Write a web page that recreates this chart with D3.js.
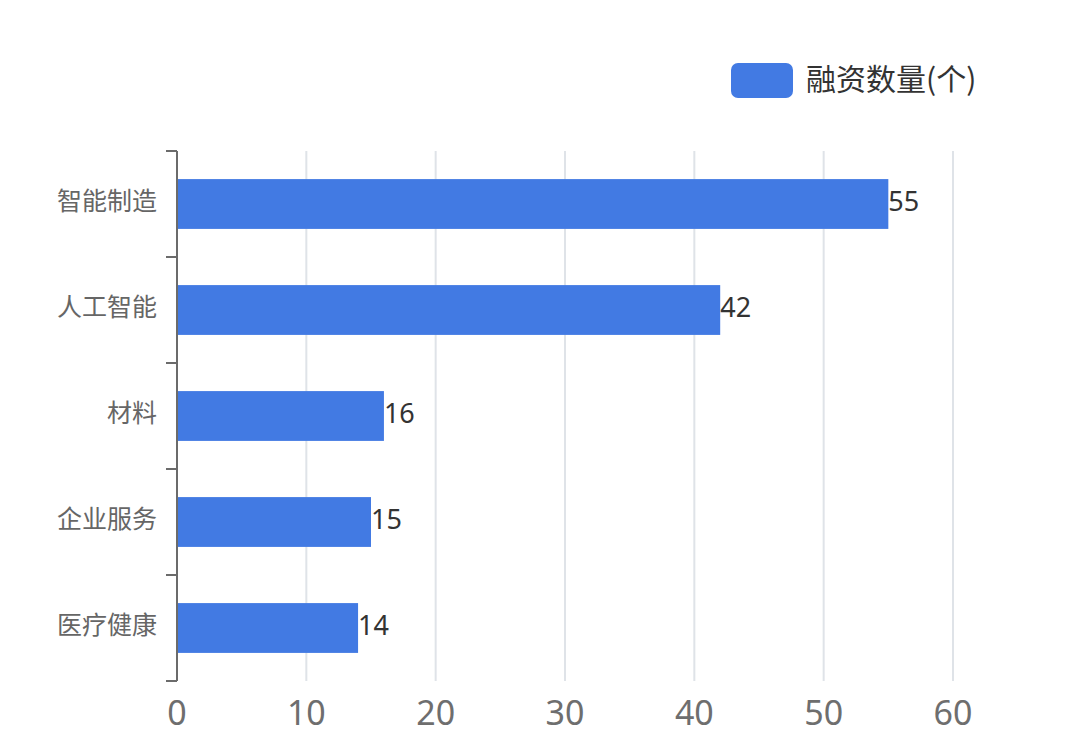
<!DOCTYPE html>
<html><head><meta charset="utf-8">
<script src="https://cdn.jsdelivr.net/npm/d3@7"></script>
<style>body{margin:0;background:#fff;}svg{display:block;}</style>
</head><body>
<svg id="c" width="1080" height="753"></svg>
<script>
const categories = ["智能制造","人工智能","材料","企业服务","医疗健康"];
const values = [55, 42, 16, 15, 14];
const xTicks = [0,10,20,30,40,50,60];
const seriesName = "融资数量(个)";

const cjk = "'Noto Sans CJK SC','Noto Sans',sans-serif";
const latin = "'Noto Sans','Noto Sans CJK SC',sans-serif";
const svg = d3.select("#c");
const m = {left:177, right:953, top:151, bottom:681};
const x = d3.scaleLinear().domain([0,60]).range([m.left, m.right]);
const y = d3.scaleBand().domain(categories).range([m.top, m.bottom]).paddingInner(0.53).paddingOuter(0.265);
const color = "#427ae3";

// grid
svg.append("g").selectAll("line").data(xTicks.filter(d=>d>0)).join("line")
  .attr("x1",d=>x(d)).attr("x2",d=>x(d)).attr("y1",m.top).attr("y2",m.bottom)
  .attr("stroke","#dfe3e8").attr("stroke-width",2);

// x tick labels
svg.append("g").selectAll("text").data(xTicks).join("text")
  .attr("x",d=>x(d)).attr("y",725).attr("text-anchor","middle")
  .attr("font-family",latin).attr("font-size",34).attr("fill","#6e6e6e").text(d=>d);

// bars
svg.append("g").selectAll("rect").data(values).join("rect")
  .attr("x",x(0)).attr("y",(d,i)=>y(categories[i]))
  .attr("width",d=>x(d)-x(0)).attr("height",y.bandwidth()).attr("fill",color);

// value labels
svg.append("g").selectAll("text").data(values).join("text")
  .attr("x",d=>x(d)).attr("y",(d,i)=>y(categories[i])+y.bandwidth()/2)
  .attr("dy","0.25em").attr("font-family",latin).attr("font-size",27).attr("fill","#333").text(d=>d);

// y axis
const yAxis = svg.append("g");
yAxis.append("line").attr("x1",m.left).attr("x2",m.left).attr("y1",m.top).attr("y2",m.bottom)
  .attr("stroke","#6b6b6b").attr("stroke-width",2);
const bounds = d3.range(categories.length+1).map(i=>m.top + i*(m.bottom-m.top)/categories.length);
yAxis.selectAll("line.t").data(bounds).join("line").attr("class","t")
  .attr("x1",m.left-11).attr("x2",m.left).attr("y1",d=>d).attr("y2",d=>d)
  .attr("stroke","#6b6b6b").attr("stroke-width",2);
yAxis.selectAll("text").data(categories).join("text")
  .attr("x",157).attr("y",d=>y(d)+y.bandwidth()/2).attr("dy","0.22em").attr("text-anchor","end")
  .attr("font-family",cjk).attr("font-size",25).attr("fill","#666").text(d=>d);

// legend
svg.append("rect").attr("x",731).attr("y",63).attr("width",62).attr("height",35).attr("rx",7).attr("fill",color);
svg.append("text").attr("x",806).attr("y",90).attr("font-family",cjk)
  .attr("font-size",30).attr("fill","#333").text(seriesName);
</script>
</body></html>
